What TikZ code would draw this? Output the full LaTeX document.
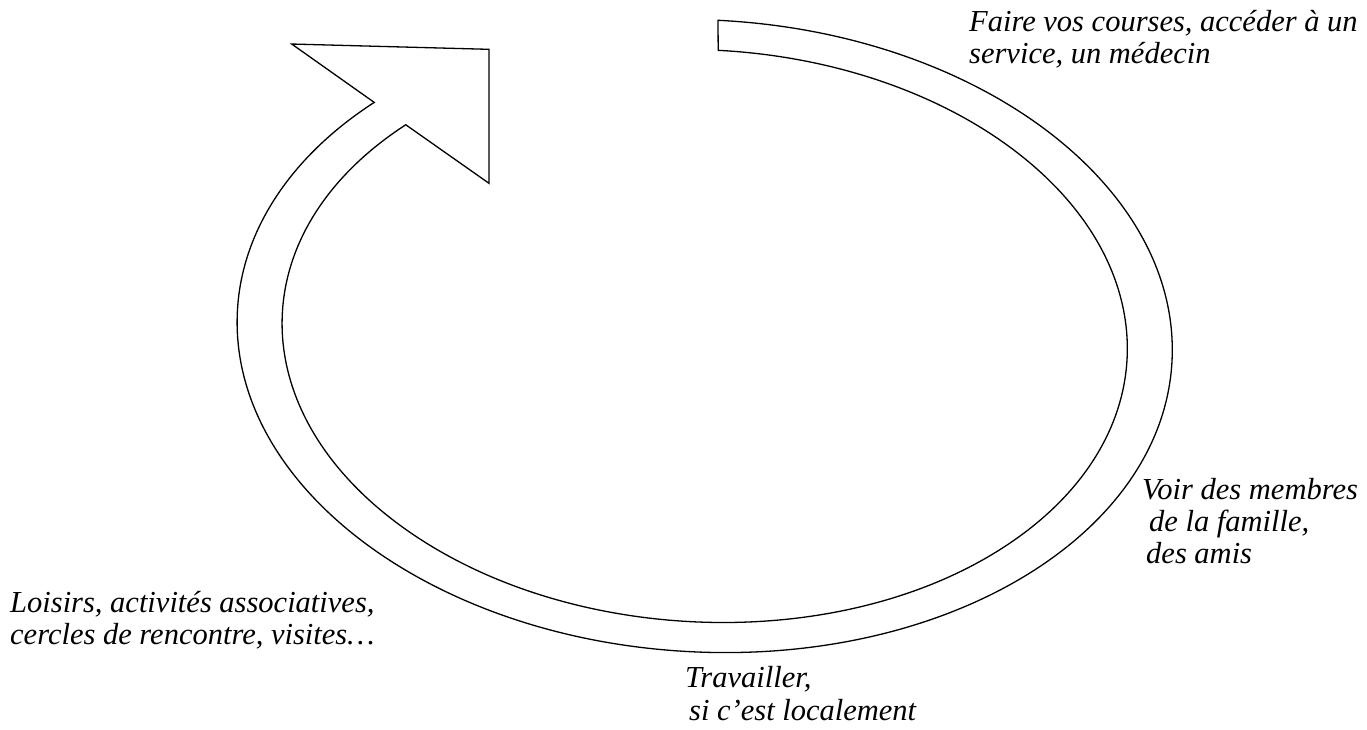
\documentclass[tikz,border=0pt]{standalone}
\usepackage{fontspec}
\setmainfont{Liberation Serif}
\begin{document}
\begin{tikzpicture}[x=1pt,y=-1pt,
  lbl/.style={anchor=base west,inner sep=0pt,font=\itshape\fontsize{30.5}{30}\selectfont},
  band/.style={draw=black,line width=1.3pt,line join=miter,fill=white}]
\useasboundingbox (0,0) rectangle (1367,729);
% arrowhead corners (canvas)
\coordinate (tipL) at (291.7,44);
\coordinate (tipR) at (489,49.3);
\coordinate (tipB) at (489,183.3);
\begin{scope}[shift={(704.7,336)},rotate=-3.15,y=1pt]
\draw[band] (90.5:468 and 316)
  arc[start angle=90.5,end angle=-222.9,x radius=468,y radius=316]
  -- (tipL) -- (tipR) -- (tipB)
  -- (-222.85:423 and 286)
  arc[start angle=-222.85,end angle=90.3,x radius=423,y radius=286]
  -- cycle;
\end{scope}
\node[lbl] (fa) at (969,31) {Faire vos courses, accéder à un};
\node[lbl] (fb) at (969,63) {service, un médecin};
\node[lbl] (va) at (1142,499) {Voir des membres};
\node[lbl] (vb) at (1149,531) {de la famille,};
\node[lbl] (vc) at (1146,563) {des amis};
\node[lbl] (la) at (10,612) {Loisirs, activités associatives,};
\node[lbl] (lb) at (10,644) {cercles de rencontre, visites…};
\node[lbl] (ta) at (685,687) {Travailler,};
\node[lbl] (tb) at (689,720) {si c’est localement};
\end{tikzpicture}
\end{document}
